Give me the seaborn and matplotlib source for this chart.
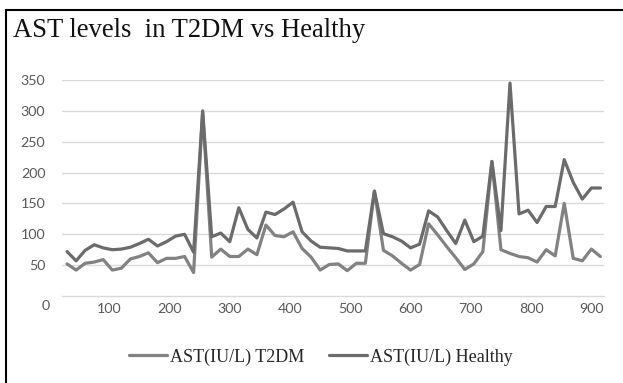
import matplotlib
matplotlib.use("Agg")
import matplotlib.pyplot as plt
import seaborn as sns
import pandas as pd
from matplotlib.patches import Rectangle
from matplotlib.transforms import blended_transform_factory

# ---- data ----
x_vals = [30, 45, 60, 75, 90, 105, 120, 135, 150, 165, 180, 195, 210, 225, 240,
          255, 270, 285, 300, 315, 330, 345, 360, 375, 390, 405, 420, 435, 450, 465,
          480, 495, 510, 525, 540, 555, 570, 585, 600, 615, 630, 645, 660, 675, 690,
          705, 720, 735, 750, 765, 780, 795, 810, 825, 840, 855, 870, 885, 900, 915]
t2dm = [52, 42, 53, 55, 59, 42, 45, 60, 64, 70, 54, 61, 61, 64, 38,
        298, 63, 76, 64, 64, 76, 67, 115, 98, 96, 104, 77, 63, 42, 51,
        52, 41, 53, 53, 170, 74, 65, 53, 42, 51, 117, 99, 80, 62, 43,
        52, 72, 218, 75, 69, 64, 62, 55, 75, 65, 150, 61, 57, 76, 64]
healthy = [72, 57, 74, 83, 78, 75, 76, 79, 85, 92, 81, 88, 97, 100, 71,
           300, 96, 102, 88, 143, 108, 94, 136, 132, 141, 152, 104, 89, 79, 78,
           77, 73, 73, 73, 170, 101, 96, 89, 78, 84, 138, 128, 106, 85, 123,
           88, 97, 218, 106, 345, 133, 139, 119, 145, 145, 221, 184, 157, 175, 175]
series_names = ["AST(IU/L) T2DM", "AST(IU/L) Healthy"]
y_ticks = [0, 50, 100, 150, 200, 250, 300, 350]
x_ticks = [100, 200, 300, 400, 500, 600, 700, 800, 900]
title = "AST levels  in T2DM vs Healthy"

df = pd.DataFrame({
    "x": x_vals * 2,
    "value": t2dm + healthy,
    "series": [series_names[0]] * len(x_vals) + [series_names[1]] * len(x_vals),
})

sns.set_theme(style="white")
plt.rcParams["font.family"] = ["Lato", "DejaVu Sans"]

fig = plt.figure(figsize=(6.23, 3.83), dpi=100)
ax = fig.add_axes([62 / 623, (383 - 296) / 383, (604 - 62) / 623, (296 - 80) / 383])

sns.lineplot(data=df, x="x", y="value", hue="series",
             palette={series_names[0]: "#828282", series_names[1]: "#6b6b6b"},
             linewidth=2.3, ax=ax, legend=False, sort=False)

ax.set_xlim(21.6, 921)
ax.set_ylim(0, 350)
ax.set_yticks(y_ticks[1:])
ax.set_xticks(x_ticks)
ax.set_xlabel("")
ax.set_ylabel("")
ax.grid(axis="y", color="#d9d9d9", linewidth=1.0)
ax.grid(axis="x", visible=False)
for s in ["top", "right", "left"]:
    ax.spines[s].set_visible(False)
ax.spines["bottom"].set_color("#d9d9d9")
ax.spines["bottom"].set_linewidth(1.0)
ax.tick_params(axis="both", length=0, labelsize=10.3, colors="#595959")
ax.tick_params(axis="y", pad=12)
ax.tick_params(axis="x", pad=5)
ax.set_axisbelow(True)

# "0" label at the origin
trans = blended_transform_factory(ax.transData, ax.transAxes)
ax.text(-5, -0.045, "0", transform=trans, ha="center", va="center",
        fontsize=10.3, color="#595959", clip_on=False)

# legend
handles = [plt.Line2D([], [], color="#828282", lw=2.3),
           plt.Line2D([], [], color="#6b6b6b", lw=2.3)]
fig.legend(handles, series_names, loc="center", bbox_to_anchor=(0.515, 0.068),
           ncol=2, frameon=False, handlelength=2.1, handletextpad=0.15,
           columnspacing=1.4, prop={"family": "Liberation Serif", "size": 13})

fig.text(13 / 623, (383 - 37) / 383, title, ha="left", va="baseline",
         fontsize=19.2, family="Liberation Serif", color="#111111")

# outer frame
fig.patches.append(Rectangle((6 / 623, -0.05), 1.05, (383 - 10) / 383 + 0.05,
                             transform=fig.transFigure, fill=False,
                             edgecolor="black", linewidth=1.5))

fig.savefig("out.png", dpi=100)
